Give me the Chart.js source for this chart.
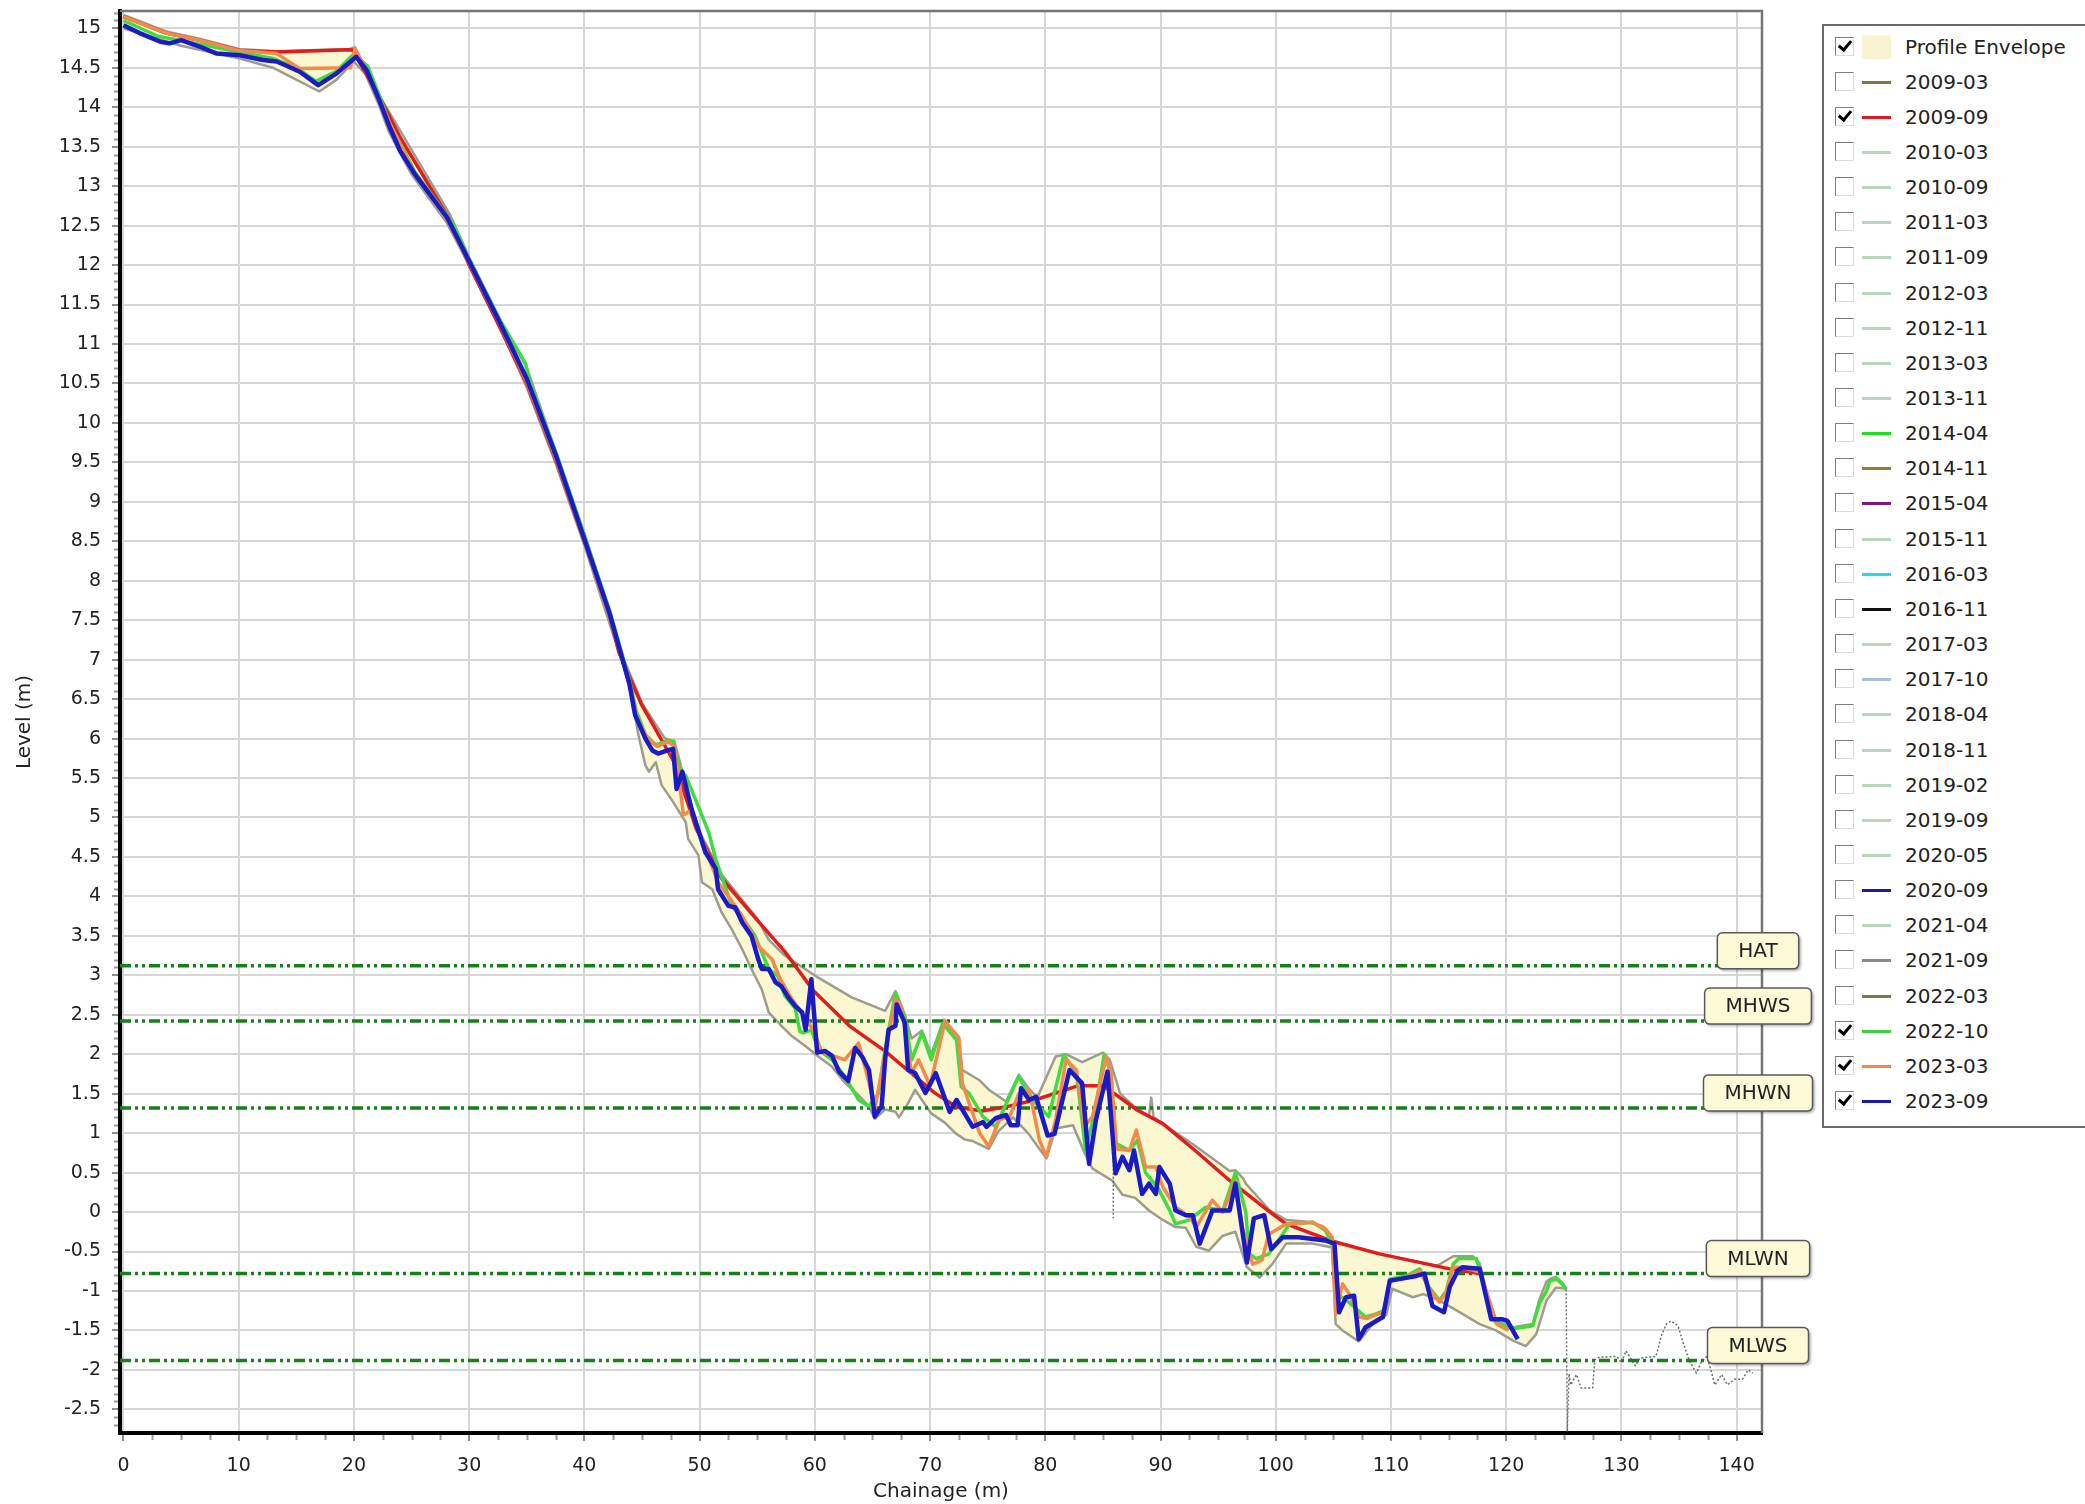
<!DOCTYPE html>
<html>
<head>
<meta charset="utf-8">
<script src="https://cdn.jsdelivr.net/npm/chart.js@4.4.1/dist/chart.umd.min.js"></script>
<style>
body { margin: 0; background: #fff; }
#wrap { position: relative; width: 2085px; height: 1504px; overflow: hidden; background: #fff; }
#legend { position: absolute; left: 1822px; top: 24px; width: 300px; height: 1100px; border: 2px solid #6a6a6a; background: #fff; font: 20px "DejaVu Sans"; color: #222; }
.row { position: absolute; left: 0; height: 36px; width: 100%; }
.cb { position: absolute; left: 11px; top: 8px; width: 17px; height: 17px; border: 1px solid; border-color: #7d7d7d #dcdcdc #dcdcdc #7d7d7d; background: #fff; }
.cb.on::after { content: ''; position: absolute; left: 5px; top: 0px; width: 5px; height: 10px; border: solid #000; border-width: 0 3px 3px 0; transform: rotate(40deg); }
.sw { position: absolute; left: 38px; top: 17px; width: 29px; height: 3px; }
.sw.env { top: 6px; height: 24px; }
.lbl { position: absolute; left: 81px; top: 0; line-height: 36px; white-space: nowrap; }
</style>
</head>
<body>
<div id="wrap">
  <canvas id="profile" width="2085" height="1504"></canvas>
  <div id="legend"></div>
</div>
<script>
// survey profiles, [chainage, level]
const s2009_09 = [[0,15.15],[3.7,14.94],[6.6,14.85],[10.1,14.72],[13.3,14.7],[19.6,14.73],[20,14.72],[20.3,14.62],[22.4,14.08],[24,13.62],[28.3,12.58],[30,12.0],[32.7,11.2],[35,10.5],[37.6,9.5],[40,8.5],[42.2,7.55],[43,7.09],[45,6.42],[47.8,5.7],[49.7,4.86],[51.9,4.23],[55,3.7],[57.4,3.3],[59.9,2.8],[63,2.36],[66.1,2.04],[68.6,1.73],[70.4,1.51],[72.3,1.33],[74.5,1.28],[76.5,1.33],[79.1,1.42],[82.8,1.6],[85,1.6],[86,1.5],[88,1.29],[90.2,1.12],[93,0.78],[96,0.4],[99.5,0.0],[100.9,-0.15],[104.9,-0.37],[109,-0.53],[115.1,-0.72],[117.7,-0.78]];

const s2022_10 = [[0,15.1],[3,14.9],[6.6,14.8],[10,14.7],[13,14.62],[15,14.5],[16.7,14.33],[18.5,14.46],[20,14.68],[21.2,14.52],[22.2,14.15],[23.1,13.8],[25.3,13.18],[28.7,12.5],[30.1,12.05],[32.7,11.3],[34.9,10.75],[35.3,10.5],[37.6,9.6],[39.9,8.62],[42.2,7.62],[43.9,6.75],[44.5,6.35],[45.3,6.05],[46.2,5.92],[47.0,5.96],[47.7,5.96],[48.3,5.58],[48.8,5.53],[50.8,4.81],[51.4,4.47],[52.8,3.88],[54.2,3.63],[54.8,3.5],[55.4,3.29],[56.0,3.08],[56.8,2.99],[57.4,2.74],[58.3,2.58],[58.7,2.29],[59.0,2.27],[59.7,2.31],[60.3,2.06],[61.5,1.93],[62.6,1.72],[63.8,1.42],[64.7,1.34],[65.5,1.5],[66.1,2.06],[67.0,2.78],[67.8,2.48],[68.4,1.93],[69.3,2.27],[70.1,1.93],[71.1,2.39],[72.3,2.18],[72.7,1.59],[73.4,1.5],[74.6,1.21],[75.7,1.08],[77.7,1.72],[78.6,1.46],[80.3,1.21],[81.6,1.99],[82.7,1.76],[83.5,0.78],[84.4,1.33],[85.1,1.99],[85.7,1.76],[86.1,0.87],[87.3,0.78],[88.0,0.91],[88.7,0.5],[89.8,0.3],[90.8,0.02],[91.3,-0.15],[92.5,-0.1],[93.9,0.06],[95.4,0.02],[96.5,0.5],[97.4,0.0],[97.7,-0.53],[98.3,-0.59],[99.4,-0.53],[100.6,-0.28],[101.2,-0.15],[103.2,-0.13],[104.3,-0.23],[104.9,-0.4],[105.2,-1.04],[106.0,-1.1],[107.8,-1.33],[108.7,-1.29],[109.4,-1.25],[109.9,-0.85],[111.3,-0.81],[112.5,-0.72],[113.3,-0.95],[114.2,-1.12],[114.8,-1.0],[115.4,-0.66],[115.9,-0.59],[117.4,-0.59],[118.3,-1.04],[119.1,-1.4],[120.6,-1.48],[122.3,-1.44],[122.9,-1.15],[123.5,-1.0],[123.8,-0.87],[124.4,-0.85],[124.9,-0.92],[125.2,-0.98]];

const s2023_03 = [[0,15.15],[3.7,14.94],[6.6,14.85],[10,14.72],[13.3,14.68],[15.3,14.49],[19.7,14.5],[20.1,14.74],[21,14.5],[22.2,14.1],[23.1,13.8],[25.3,13.15],[28.1,12.58],[30.1,12.0],[32.7,11.24],[35,10.52],[37.6,9.52],[39.9,8.55],[42.2,7.55],[43.9,6.68],[44.6,6.25],[45.5,6.0],[46.3,5.9],[47.3,5.96],[47.8,5.9],[48.2,5.5],[48.6,5.03],[49.3,5.1],[50.5,4.6],[51.6,4.18],[52.5,4.0],[53.7,3.75],[55.1,3.37],[56.3,3.2],[57.0,2.95],[58.0,2.7],[59.0,2.5],[60.0,2.27],[60.6,2.02],[61.8,1.97],[62.6,1.93],[63.8,2.14],[64.7,1.64],[65.2,1.3],[66.1,2.02],[67.0,2.7],[67.5,2.61],[68.4,1.76],[69.0,1.93],[70.0,1.6],[71.3,2.42],[72.5,2.2],[72.8,1.63],[74.3,1.0],[75.1,0.83],[76.0,1.17],[76.9,1.21],[77.7,1.5],[78.6,1.55],[79.5,0.91],[80.1,0.7],[80.9,1.17],[81.8,1.93],[82.7,1.8],[83.4,1.08],[84.1,1.21],[85.3,1.97],[85.7,1.76],[86.2,0.8],[87.3,0.78],[87.9,1.04],[88.7,0.57],[89.6,0.57],[90.2,0.32],[91.3,0.06],[92.5,-0.06],[93.1,-0.19],[94.5,0.15],[95.4,0.0],[96.5,0.4],[97.1,-0.19],[98.0,-0.66],[98.8,-0.61],[99.4,-0.28],[100.9,-0.15],[103.2,-0.13],[104.3,-0.21],[104.9,-0.32],[105.2,-1.29],[105.8,-0.91],[106.4,-1.04],[107.2,-1.33],[107.9,-1.35],[108.7,-1.3],[109.4,-1.27],[109.9,-0.87],[111.3,-0.83],[112.5,-0.75],[113.3,-0.97],[114.2,-1.14],[114.8,-1.02],[115.4,-0.7],[116.2,-0.7],[117.7,-0.76],[118.4,-1.06],[119.2,-1.42],[120.2,-1.5]];

const s2023_09 = [[0,15.04],[1.4,14.94],[3.2,14.83],[4.0,14.81],[5.0,14.85],[6.6,14.77],[8.1,14.68],[10.1,14.66],[12.1,14.6],[13.3,14.58],[14.1,14.53],[15.3,14.45],[16.9,14.28],[18.5,14.43],[19.3,14.53],[20.2,14.64],[21.1,14.47],[22.2,14.09],[23.1,13.75],[24,13.45],[25.3,13.15],[28.1,12.6],[30.1,12.02],[32.7,11.26],[35,10.56],[37.6,9.56],[39.9,8.57],[42.2,7.58],[43.9,6.7],[44.4,6.3],[45.3,6.0],[45.9,5.85],[46.4,5.81],[47.2,5.85],[47.7,5.87],[48.0,5.36],[48.5,5.58],[49.3,5.11],[50.5,4.56],[51.4,4.35],[51.6,4.09],[52.5,3.88],[53.1,3.86],[53.7,3.67],[54.5,3.5],[55.1,3.2],[55.4,3.08],[56.0,3.08],[56.6,2.91],[57.1,2.86],[57.7,2.72],[58.3,2.61],[58.9,2.53],[59.2,2.31],[59.7,2.95],[60.2,2.02],[60.9,2.04],[61.5,1.98],[62.1,1.78],[62.9,1.66],[63.5,2.08],[64.1,1.97],[64.7,1.8],[65.2,1.21],[65.8,1.34],[66.1,1.93],[66.4,2.31],[67.0,2.36],[67.1,2.63],[67.8,2.4],[68.1,1.8],[68.7,1.76],[69.6,1.51],[70.5,1.76],[71.7,1.27],[72.3,1.42],[73.7,1.08],[74.6,1.14],[74.9,1.08],[75.7,1.19],[76.6,1.23],[77.0,1.1],[77.6,1.1],[77.9,1.57],[78.6,1.42],[79.2,1.46],[80.2,0.97],[80.8,0.99],[82.1,1.8],[83.2,1.63],[83.8,0.61],[84.4,1.17],[85.4,1.78],[86.1,0.49],[86.7,0.7],[87.3,0.53],[87.7,0.78],[88.4,0.23],[89.0,0.36],[89.6,0.23],[89.9,0.57],[90.8,0.36],[91.3,0.02],[92.2,-0.04],[92.8,-0.04],[93.4,-0.4],[94.5,0.02],[96.0,0.02],[96.5,0.36],[97.5,-0.64],[98.1,-0.08],[99.0,-0.04],[99.6,-0.47],[100.6,-0.32],[102,-0.32],[104.3,-0.36],[105.1,-0.4],[105.5,-1.27],[106.1,-1.08],[106.8,-1.06],[107.2,-1.61],[107.8,-1.46],[109.3,-1.33],[109.9,-0.87],[110.7,-0.85],[112.2,-0.81],[112.9,-0.78],[113.6,-1.19],[114.6,-1.27],[115.1,-0.95],[115.8,-0.74],[116.2,-0.7],[117.7,-0.72],[118.7,-1.36],[119.7,-1.36],[120.1,-1.38],[121.0,-1.61]];

// envelope of all surveys
const envUpper = [[0,15.17],[3.7,14.96],[6.6,14.87],[10,14.74],[13.3,14.71],[19.6,14.74],[20.1,14.76],[20.5,14.62],[22.4,14.1],[28.3,12.65],[30,12.1],[32.7,11.3],[35,10.7],[37.6,9.6],[40,8.6],[42.2,7.6],[43,7.15],[45,6.45],[47,6.0],[47.8,5.97],[48.3,5.7],[49.7,4.9],[51.9,4.28],[55,3.72],[56,3.45],[57.4,3.25],[60.3,2.97],[63.2,2.72],[66.1,2.55],[67.0,2.8],[67.8,2.5],[68.4,2.2],[69.3,2.3],[70.1,2.0],[71.2,2.44],[72.5,2.22],[72.8,1.8],[74.3,1.67],[75.1,1.55],[76.6,1.4],[77.7,1.74],[78.6,1.56],[79.3,1.45],[80.9,1.97],[81.8,2.0],[83.2,1.9],[85.0,2.02],[85.6,1.93],[86.5,1.5],[88,1.3],[89,1.22],[89.2,1.45],[89.4,1.2],[90.2,1.12],[93,0.84],[96,0.52],[96.5,0.53],[97.2,0.42],[97.4,0.36],[99.5,0.02],[100.9,-0.1],[102.6,-0.12],[104.1,-0.18],[104.9,-0.36],[109,-0.53],[114,-0.68],[115.4,-0.56],[117.1,-0.56],[117.7,-0.65],[118.3,-1.0],[119.1,-1.38],[120.6,-1.46],[122.3,-1.42],[122.9,-1.1],[123.5,-0.88],[123.8,-0.85],[124.3,-0.82],[124.9,-0.9],[125.2,-0.97]];

const envLower = [[0,15.0],[5,14.78],[10,14.62],[13,14.5],[17,14.2],[18.5,14.35],[20,14.58],[21,14.42],[22.2,14.02],[23,13.7],[25,13.15],[28,12.55],[30,12.0],[32.7,11.2],[35,10.45],[37.6,9.45],[40,8.45],[42.2,7.45],[43.9,6.7],[44.7,6.04],[45.3,5.66],[45.6,5.58],[46.2,5.7],[46.7,5.41],[47.6,5.22],[48.8,4.94],[49.0,4.73],[49.9,4.52],[50.2,4.18],[51.1,4.09],[51.9,3.8],[52.8,3.58],[53.7,3.33],[54.5,3.08],[55.4,2.82],[56.0,2.53],[57.1,2.36],[58.0,2.23],[59.2,2.1],[60.3,1.97],[61.5,1.84],[62.6,1.64],[63.8,1.48],[64.7,1.34],[65.2,1.18],[66.1,1.3],[67.0,1.27],[67.3,1.2],[68.1,1.38],[68.7,1.55],[69.3,1.42],[70.1,1.25],[71.3,1.13],[72.2,1.0],[73.0,0.92],[73.7,0.9],[75.1,0.8],[75.9,1.02],[77.2,1.2],[78.5,1.0],[79.8,0.74],[80.1,0.68],[80.9,1.06],[82.4,1.1],[83.5,0.72],[84.1,0.55],[85.8,0.4],[86.7,0.22],[87.8,0.18],[89.0,0.02],[90.2,-0.1],[91.3,-0.19],[92.2,-0.2],[93.1,-0.44],[94.2,-0.49],[95.4,-0.3],[96.5,-0.25],[97.5,-0.7],[98.6,-0.83],[99.7,-0.66],[100.9,-0.4],[103.2,-0.4],[104.9,-0.45],[105.2,-1.42],[105.8,-1.5],[107.2,-1.64],[108.4,-1.42],[109.6,-1.3],[110.1,-0.97],[111.9,-1.08],[112.8,-1.04],[114.2,-1.12],[116.2,-1.29],[117.7,-1.42],[119.1,-1.5],[120.6,-1.63],[121.7,-1.7],[122.6,-1.55],[123.5,-1.12],[124.3,-0.96],[125.2,-0.97]];

// dotted (partial) survey beyond the envelope
const dotted = [[85.9,0.75],[85.9,-0.08],[86,null],[125.2,-0.98],[125.3,-2.78],[125.45,-2.05],[125.6,-2.19],[126.1,-2.06],[126.5,-2.23],[127.5,-2.23],[127.7,-1.87],[128.1,-1.84],[129.6,-1.83],[130.0,-1.91],[130.4,-1.76],[131.2,-1.95],[131.6,-1.85],[133.0,-1.83],[133.5,-1.55],[133.9,-1.42],[134.3,-1.38],[134.9,-1.44],[135.5,-1.72],[135.9,-1.89],[136.5,-2.04],[136.9,-1.91],[137.4,-1.83],[137.8,-2.02],[138.1,-2.19],[138.7,-2.06],[139.2,-2.19],[139.8,-2.12],[140.5,-2.12],[141.0,-2.0],[141.4,-2.04]];

// tidal levels
const tideNames = ['HAT', 'MHWS', 'MHWN', 'MLWN', 'MLWS'];
const tideLevels = [3.12, 2.42, 1.32, -0.78, -1.88];

const xMin = -0.3, xMax = 142.2;
const yMin = -2.8, yMax = 15.22;

const pale = '#b9d6bd';
const legendNames = ['Profile Envelope','2009-03','2009-09','2010-03','2010-09','2011-03','2011-09','2012-03','2012-11','2013-03','2013-11','2014-04','2014-11','2015-04','2015-11','2016-03','2016-11','2017-03','2017-10','2018-04','2018-11','2019-02','2019-09','2020-05','2020-09','2021-04','2021-09','2022-03','2022-10','2023-03','2023-09'];
const legendColors = ['#f8f4cf','#7c7a44','#d42020',pale,pale,pale,pale,pale,pale,pale,pale,'#22dd22','#8a8030','#7a1a7a',pale,'#22dde8','#111111',pale,'#a8bedc',pale,pale,pale,pale,pale,'#1c1ca0',pale,'#8a8a8a','#7a7848','#44cc44','#f08848','#1a1aa8'];
const legendChecked = ['Profile Envelope','2009-09','2022-10','2023-03','2023-09'];

function pts(arr) {
    return arr.map(p => ({x: p[0], y: p[1]}));
}

function profile(label, arr, color, width) {
    return {
        label: label,
        data: pts(arr),
        borderColor: color,
        borderWidth: width,
        pointRadius: 0,
        tension: 0,
        fill: false,
        borderJoinStyle: 'round'
    };
}

let datasets = [];
datasets.push(profile('2023-09', s2023_09, '#1b1bc6', 4.5));
datasets.push(profile('2023-03', s2023_03, '#f3894a', 3.5));
datasets.push(profile('2022-10', s2022_10, '#3fdc3f', 3.5));
datasets.push(profile('2009-09', s2009_09, '#e01c1c', 3.5));
for (let i = 0; i < tideNames.length; i++) {
    datasets.push({
        label: tideNames[i],
        data: [{x: xMin, y: tideLevels[i]}, {x: xMax, y: tideLevels[i]}],
        borderColor: '#17801b',
        borderWidth: 3.5,
        borderDash: [11, 4, 3, 4, 3, 4],
        pointRadius: 0,
        fill: false
    });
}
let dot = profile('dotted', dotted, '#6d6d6d', 1.5);
dot.borderDash = [2, 2];
dot.spanGaps = false;
datasets.push(dot);
let up = profile('envelope upper', envUpper, '#9d9c8e', 2.5);
up.fill = '+1';
up.backgroundColor = '#fbf7d0';
datasets.push(up);
datasets.push(profile('envelope lower', envLower, '#9d9c8e', 2.5));

// border, minor ticks and tide labels
const extras = {
    id: 'extras',
    afterDraw(chart) {
        const ctx = chart.ctx;
        const a = chart.chartArea;
        const x = chart.scales.x, y = chart.scales.y;
        ctx.save();
        ctx.strokeStyle = '#767676';
        ctx.lineWidth = 2.5;
        ctx.beginPath();
        ctx.moveTo(a.left, a.top);
        ctx.lineTo(a.right, a.top);
        ctx.lineTo(a.right, a.bottom);
        ctx.stroke();

        ctx.strokeStyle = '#9a9a9a';
        ctx.lineWidth = 2;
        ctx.beginPath();
        for (let k = -27; k <= 152; k++) {
            if (k % 5 === 0) continue;
            const py = Math.round(y.getPixelForValue(k / 10)) + 0.5;
            ctx.moveTo(a.left - 6, py);
            ctx.lineTo(a.left - 2, py);
        }
        for (let k = 0; k <= 56; k++) {
            if (k % 4 === 0) continue;
            const px = Math.round(x.getPixelForValue(k * 2.5)) + 0.5;
            ctx.moveTo(px, a.bottom + 2);
            ctx.lineTo(px, a.bottom + 7);
        }
        ctx.stroke();

        ctx.font = '20px "DejaVu Sans"';
        ctx.textAlign = 'center';
        ctx.textBaseline = 'middle';
        for (let i = 0; i < tideNames.length; i++) {
            const py = y.getPixelForValue(tideLevels[i]);
            const w = ctx.measureText(tideNames[i]).width + 42;
            const h = 36;
            const cx = a.right - 4;
            const bx = cx - w / 2, by = py + 3 - h;
            ctx.save();
            ctx.shadowColor = 'rgba(0,0,0,0.35)';
            ctx.shadowOffsetX = 2;
            ctx.shadowOffsetY = 2;
            ctx.shadowBlur = 3;
            ctx.fillStyle = '#fcf9d6';
            ctx.beginPath();
            ctx.roundRect(bx, by, w, h, 5);
            ctx.fill();
            ctx.restore();
            ctx.strokeStyle = '#585858';
            ctx.lineWidth = 1.5;
            ctx.beginPath();
            ctx.roundRect(bx, by, w, h, 5);
            ctx.stroke();
            ctx.fillStyle = '#222';
            ctx.fillText(tideNames[i], cx, by + h / 2 + 1);
        }
        ctx.restore();
    }
};

const ctx = document.getElementById('profile').getContext('2d');
const chart = new Chart(ctx, {
    type: 'line',
    data: { datasets: datasets },
    options: {
        responsive: false,
        animation: false,
        devicePixelRatio: 1,
        layout: { padding: { top: 11, right: 323, left: 0, bottom: 0 } },
        plugins: {
            legend: { display: false },
            tooltip: { enabled: false },
            filler: { drawTime: 'beforeDatasetsDraw' }
        },
        scales: {
            x: {
                type: 'linear',
                min: xMin,
                max: xMax,
                afterFit: s => { s.height = 71; s.paddingLeft = 0; s.paddingRight = 0; },
                ticks: {
                    stepSize: 10,
                    includeBounds: false,
                    maxRotation: 0,
                    padding: 14,
                    color: '#222',
                    font: { family: 'DejaVu Sans', size: 19 },
                    callback: v => String(v)
                },
                grid: { color: '#d6d6d6', lineWidth: 2, tickLength: 8, tickColor: '#8e8e8e', tickWidth: 2 },
                border: { color: '#000', width: 4 },
                title: { display: true, text: 'Chainage (m)', color: '#222', font: { family: 'DejaVu Sans', size: 20 }, padding: { top: 0, bottom: 0 } }
            },
            y: {
                type: 'linear',
                min: yMin,
                max: yMax,
                afterFit: s => { s.width = 120; s.paddingTop = 0; s.paddingBottom = 0; },
                ticks: {
                    stepSize: 0.5,
                    includeBounds: false,
                    padding: 11,
                    color: '#222',
                    font: { family: 'DejaVu Sans', size: 19 },
                    callback: v => String(v)
                },
                grid: { color: '#d6d6d6', lineWidth: 2, tickLength: 8, tickColor: '#8e8e8e', tickWidth: 2 },
                border: { color: '#000', width: 4 },
                title: { display: true, text: 'Level (m)', color: '#222', font: { family: 'DejaVu Sans', size: 20 }, padding: { top: 13, bottom: 0 } }
            }
        }
    },
    plugins: [extras]
});

// legend with check boxes
const legend = document.getElementById('legend');
for (let i = 0; i < legendNames.length; i++) {
    const row = document.createElement('div');
    row.className = 'row';
    row.style.top = (2.5 + i * 35.15) + 'px';
    const cb = document.createElement('span');
    cb.className = legendChecked.includes(legendNames[i]) ? 'cb on' : 'cb';
    const sw = document.createElement('span');
    sw.className = i === 0 ? 'sw env' : 'sw';
    sw.style.background = legendColors[i];
    const lbl = document.createElement('span');
    lbl.className = 'lbl';
    lbl.textContent = legendNames[i];
    row.appendChild(cb);
    row.appendChild(sw);
    row.appendChild(lbl);
    legend.appendChild(row);
}
</script>
</body>
</html>
